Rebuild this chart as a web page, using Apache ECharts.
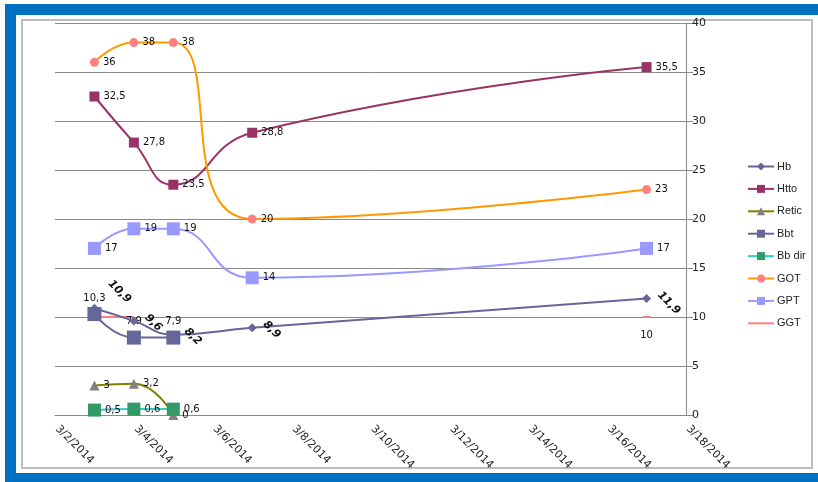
<!DOCTYPE html>
<html>
<head>
<meta charset="utf-8">
<script src="https://cdn.jsdelivr.net/npm/echarts@6/dist/echarts.min.js"></script>
<style>
html, body { margin: 0; padding: 0; background: #fff; }
#main { width: 818px; height: 482px; }
</style>
</head>
<body>
<div id="main"></div>
<script>
var dates = ['3/3/2014', '3/4/2014', '3/5/2014', '3/7/2014', '3/17/2014'];
var hb    = [10.9, 9.6, 8.2, 8.9, 11.9];
var htto  = [32.5, 27.8, 23.5, 28.8, 35.5];
var retic = [3, 3.2, 0, null, null];
var bbt   = [10.3, 7.9, 7.9, null, null];
var bbDir = [0.5, 0.6, 0.6, null, null];
var got   = [36, 38, 38, 20, 23];
var gpt   = [17, 19, 19, 14, 17];
var ggt   = [10, 10, null, null, 10];

var yTicks = [0, 5, 10, 15, 20, 25, 30, 35, 40];
var xTicks = ['3/2/2014', '3/4/2014', '3/6/2014', '3/8/2014', '3/10/2014', '3/12/2014', '3/14/2014', '3/16/2014', '3/18/2014'];

var myChart = echarts.init(document.getElementById('main'));

function day(s) { return +s.split('/')[1]; }
function pairs(vals) {
    return vals.map(function (v, i) { return [day(dates[i]), v]; });
}
function comma(p) { return String(p.value[1]).replace('.', ','); }

var font = 'DejaVu Sans';
var baseLabel = { show: true, fontFamily: font, fontSize: 10, color: '#111', formatter: comma, distance: 4 };

function mk(name, vals, opts) {
    return {
        name: name,
        type: 'line',
        smooth: 0.5,
        data: pairs(vals),
        lineStyle: { width: 2, color: opts.line },
        itemStyle: { color: opts.fill, borderWidth: 0 },
        symbol: opts.symbol,
        symbolSize: opts.size,
        showAllSymbol: true,
        label: Object.assign({}, baseLabel, { position: opts.pos || 'right' }, opts.label || {}),
        emphasis: { disabled: true },
        z: opts.z || 2
    };
}

var hbSeries = mk('Hb', hb, { line: '#666699', fill: '#666699', symbol: 'diamond', size: 9,
    label: { rotate: -45, fontWeight: 'bold', fontStyle: 'italic', fontSize: 11, distance: 6, offset: [-2, -5] }, z: 4 });
hbSeries.data[0] = { value: hbSeries.data[0], label: { offset: [-15, -22] } };

// GGT has no markers, only the lone point on 3/17 shows as a short dash
var ggtSeries = mk('GGT', ggt, { line: '#FF8080', fill: '#FF8080', symbol: 'none', size: 8, pos: 'bottom',
    label: { distance: 12 } });
ggtSeries.data = ggtSeries.data.map(function (d, i) {
    return i === ggtSeries.data.length - 1 ? { value: d, symbol: 'rect', symbolSize: [8, 2] } : d;
});

var option = {
    backgroundColor: '#fff',
    animation: false,
    graphic: [
        { type: 'rect', shape: { x: 5, y: 4, width: 813, height: 11 }, style: { fill: '#0070C0' }, silent: true },
        { type: 'rect', shape: { x: 5, y: 4, width: 11, height: 478 }, style: { fill: '#0070C0' }, silent: true },
        { type: 'rect', shape: { x: 5, y: 473, width: 813, height: 9 }, style: { fill: '#0070C0' }, silent: true },
        { type: 'rect', shape: { x: 22, y: 20, width: 790, height: 448 }, style: { fill: 'none', stroke: '#BDBDBD', lineWidth: 2 }, silent: true }
    ],
    legend: {
        orient: 'vertical',
        left: 747,
        top: 161,
        padding: 0,
        itemWidth: 26,
        itemHeight: 10,
        itemGap: 11.4,
        textStyle: { fontFamily: 'Liberation Sans', fontSize: 11, color: '#222', lineHeight: 10, padding: [0, 0, 0, -2] },
        data: ['Hb', 'Htto', 'Retic', 'Bbt', 'Bb dir', 'GOT', 'GPT',
            { name: 'GGT', itemStyle: { opacity: 0 } }]
    },
    grid: { left: 55, right: 132, top: 23, bottom: 67 },
    xAxis: {
        type: 'value',
        min: 2,
        max: 18,
        interval: 2,
        axisLine: { show: true, lineStyle: { color: '#8a8a8a', width: 1 } },
        axisTick: { show: false },
        splitLine: { show: false },
        axisLabel: {
            rotate: -45,
            margin: 10,
            fontFamily: font,
            fontSize: 11,
            color: '#222',
            padding: [0, 0, 0, 3],
            formatter: function (v) { return xTicks[(v - 2) / 2]; }
        }
    },
    yAxis: {
        type: 'value',
        position: 'right',
        min: yTicks[0],
        max: yTicks[yTicks.length - 1],
        interval: 5,
        axisLine: { show: true, lineStyle: { color: '#8a8a8a', width: 1 } },
        axisTick: { show: true, length: 7, lineStyle: { color: '#8a8a8a' } },
        splitLine: { show: true, lineStyle: { color: '#8a8a8a', width: 1 } },
        axisLabel: { fontFamily: font, fontSize: 11, color: '#222', margin: 6 }
    },
    series: [
        hbSeries,
        mk('Htto', htto, { line: '#993366', fill: '#993366', symbol: 'rect', size: 10 }),
        mk('Retic', retic, { line: '#808000', fill: '#808080', symbol: 'triangle', size: 10 }),
        mk('Bbt', bbt, { line: '#666699', fill: '#666699', symbol: 'rect', size: 14, pos: 'top', z: 3 }),
        mk('Bb dir', bbDir, { line: '#33CCCC', fill: '#339966', symbol: 'rect', size: 13 }),
        mk('GOT', got, { line: '#FF9900', fill: '#FF8080', symbol: 'circle', size: 9 }),
        mk('GPT', gpt, { line: '#9999FF', fill: '#9999FF', symbol: 'rect', size: 13 }),
        ggtSeries
    ]
};

myChart.setOption(option);
</script>
</body>
</html>
